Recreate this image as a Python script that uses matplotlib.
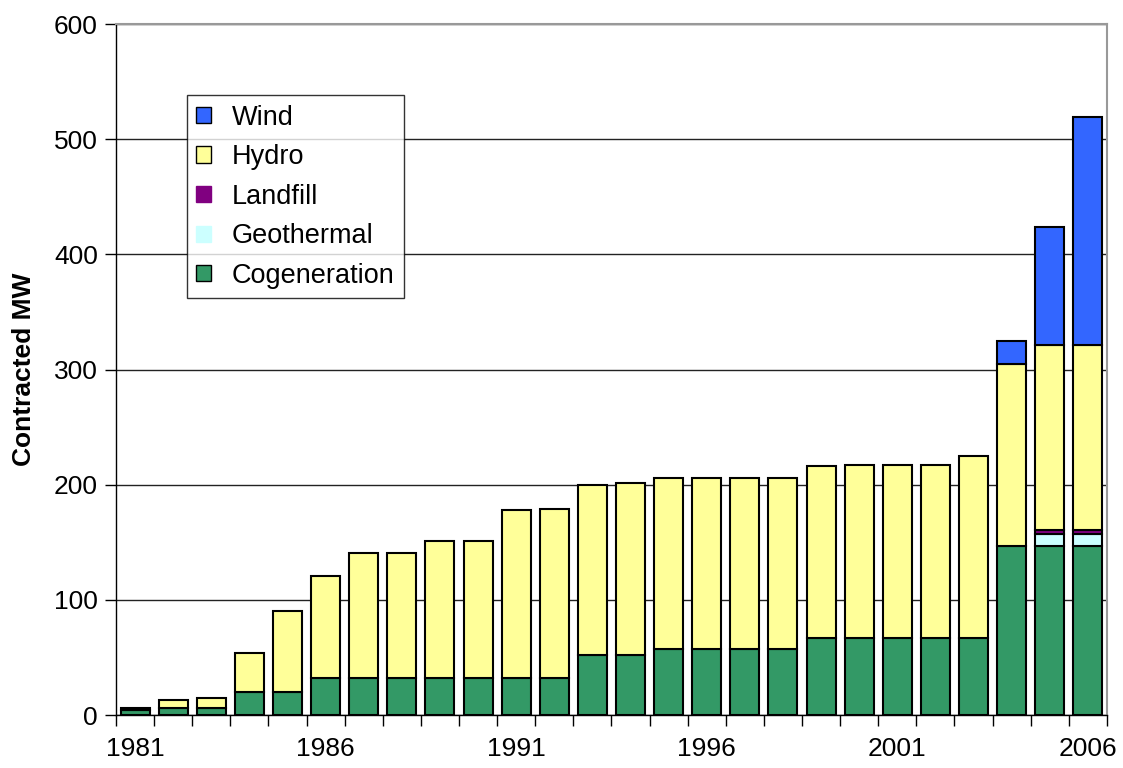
import numpy as np
import matplotlib
matplotlib.use('Agg')
import matplotlib.pyplot as plt
from matplotlib.patches import Patch

plt.rcParams['font.family'] = ['Liberation Sans', 'DejaVu Sans']

# data (MW per year)
years = list(range(1981, 2007))
cogeneration = [4.5, 6, 6, 20, 20, 32, 32, 32, 32, 32, 32, 32, 52, 52,
                57, 57, 57, 57, 67, 67, 67, 67, 67, 147, 147, 147]
geothermal = [0] * 24 + [10, 10]
landfill = [0] * 24 + [3.5, 3.5]
hydro = [1.5, 7, 8.5, 34, 70.5, 89, 109, 109, 119, 119, 146, 147, 148, 149.5,
         149, 149, 149, 149, 149, 150.5, 150.5, 150.5, 158, 157.5, 160.5, 160.5]
wind = [0] * 23 + [20.5, 102.5, 198]

series = [
    ('Cogeneration', cogeneration, '#339966'),
    ('Geothermal', geothermal, '#CCFFFF'),
    ('Landfill', landfill, '#800080'),
    ('Hydro', hydro, '#FFFF99'),
    ('Wind', wind, '#3366FF'),
]

fig = plt.figure(figsize=(11.23, 7.68), dpi=100)
ax = fig.add_axes([0.1033, 0.069, 0.8824, 0.8997])

x = np.arange(len(years))
bottom = np.zeros(len(years))
for name, vals, col in series:
    vals = np.array(vals, dtype=float)
    mask = vals > 0
    ax.bar(x[mask], vals[mask], width=0.76, bottom=bottom[mask], color=col,
           edgecolor='black', linewidth=1.5, zorder=3)
    bottom += vals

ax.set_xlim(-0.5, len(years) - 0.5)
ax.set_ylim(0, 600)
ax.set_yticks(range(0, 601, 100))
ax.tick_params(axis='y', labelsize=19, length=8, width=1, direction='out', pad=5)

# ticks between categories, labels every 5 years
ax.set_xticks(np.arange(-0.5, len(years), 1))
ax.set_xticklabels([])
ax.set_xticks([i for i, yr in enumerate(years) if (yr - 1981) % 5 == 0], minor=True)
ax.set_xticklabels([str(yr) for yr in years if (yr - 1981) % 5 == 0], minor=True)
ax.tick_params(axis='x', which='major', length=8, width=1, direction='out')
ax.tick_params(axis='x', which='minor', length=0, labelsize=19, pad=16)

ax.yaxis.grid(True, color='#222222', linewidth=1, zorder=0)
ax.set_axisbelow(True)

for side in ['top', 'right']:
    ax.spines[side].set_color('#999999')
    ax.spines[side].set_linewidth(1.5)
for side in ['left', 'bottom']:
    ax.spines[side].set_color('black')
    ax.spines[side].set_linewidth(1)

ax.set_ylabel('Contracted MW', fontsize=19, fontweight='bold', labelpad=13)

handles = [
    Patch(facecolor='#3366FF', edgecolor='black', label='Wind'),
    Patch(facecolor='#FFFF99', edgecolor='black', label='Hydro'),
    Patch(facecolor='#800080', edgecolor='#800080', label='Landfill'),
    Patch(facecolor='#CCFFFF', edgecolor='#CCFFFF', label='Geothermal'),
    Patch(facecolor='#339966', edgecolor='black', label='Cogeneration'),
]
leg = ax.legend(handles=handles, loc='upper left', bbox_to_anchor=(0.0716, 0.897),
                borderaxespad=0, fontsize=19.5, frameon=True, fancybox=False,
                handlelength=0.55, handleheight=0.55, handletextpad=0.75,
                labelspacing=0.5, borderpad=0.35)
leg.get_frame().set_edgecolor('black')
leg.get_frame().set_linewidth(1)

fig.savefig('out.png', dpi=100)
